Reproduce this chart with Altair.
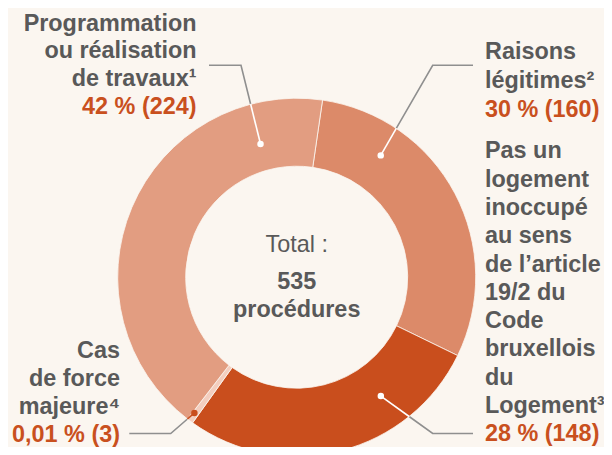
import altair as alt
import pandas as pd
import numpy as np

# ---------------- data ----------------
categories = ["Raisons légitimes", "Pas un logement inoccupé", "Cas de force majeure",
              "Programmation ou réalisation de travaux"]
values = [160, 148, 3, 224]
slice_colors = ["#DC8A69", "#C94E1D", "#F3CEBF", "#E29D81"]
label_lines = [
    ["Raisons", "légitimes²"],
    ["Pas un", "logement", "inoccupé", "au sens", "de l’article", "19/2 du", "Code",
     "bruxellois", "du", "Logement³"],
    ["Cas", "de force", "majeure⁴"],
    ["Programmation", "ou réalisation", "de travaux¹"],
]
percent_labels = ["30 % (160)", "28 % (148)", "0,01 % (3)", "42 % (224)"]
center_title = "Total :"
center_lines = ["535", "procédures"]

# ---------------- layout ----------------
W, H = 596, 439
CX, CY = 288.7, 269.2
R_OUT, R_IN = 179, 111
START = float(np.deg2rad(8.3))
BG = "#FBF6F0"
GRAY = "#595959"
ORANGE = "#C9501E"
LINE = "#8F8F8F"
FONT = "Arial, 'Liberation Sans', Helvetica, sans-serif"
FS = 23.4

# label blocks: x anchor, align, first baseline, line spacing
blocks = [
    dict(x=477, align="left", y0=51.3, dy=29),
    dict(x=477, align="left", y0=150.3, dy=28.3),
    dict(x=112, align="right", y0=349.5, dy=28),
    dict(x=188.5, align="right", y0=22.7, dy=27.6),
]
# leader lines: dot angle (deg clockwise from top), dot radius, elbow, end x
leaders = [
    dict(ang=34.6, r=148, ex=424.7, ey=57.3, endx=465, inner="#FFFFFF"),
    dict(ang=144.7, r=145.6, ex=424.7, ey=425.5, endx=465, inner="#FFFFFF"),
    dict(ang=217.0, r=170, ex=162.7, ey=425.5, endx=121.3, inner="#C94E1D"),
    dict(ang=344.8, r=138, ex=233, ey=57.3, endx=201, inner="#FFFFFF"),
]

xs = alt.Scale(domain=[0, W], range=[0, W], nice=False, zero=False)
ys = alt.Scale(domain=[0, H], range=[0, H], nice=False, zero=False)

# ---------------- donut ----------------
pie_df = pd.DataFrame({"cat": categories, "value": values, "color": slice_colors,
                       "order": list(range(len(values)))})
arc = alt.Chart(pie_df).mark_arc(outerRadius=R_OUT, innerRadius=R_IN,
                                 stroke=BG, strokeWidth=0.8).encode(
    theta=alt.Theta("value:Q", stack=True,
                    scale=alt.Scale(range=[START, START + 2 * float(np.pi)])),
    order=alt.Order("order:Q"),
    color=alt.Color("color:N", scale=None),
    x=alt.value(CX), y=alt.value(CY),
)

# ---------------- leader lines ----------------
outer_rows, inner_rows, dot_rows = [], [], []
for i, ld in enumerate(leaders):
    a = np.deg2rad(ld["ang"])
    dx_, dy_ = CX + ld["r"] * np.sin(a), CY - ld["r"] * np.cos(a)
    ex, ey = ld["ex"], ld["ey"]
    px, py = dx_ - ex, dy_ - ey
    fx, fy = ex - CX, ey - CY
    A = px * px + py * py
    B = 2 * (fx * px + fy * py)
    Cc = fx * fx + fy * fy - R_OUT ** 2
    t = (-B - np.sqrt(B * B - 4 * A * Cc)) / (2 * A)
    ix, iy = ex + t * px, ey + t * py
    for k, (x, y) in enumerate([(ld["endx"], ey), (ex, ey), (ix, iy)]):
        outer_rows.append(dict(id=i, k=k, x=x, y=y))
    for k, (x, y) in enumerate([(ix, iy), (dx_, dy_)]):
        inner_rows.append(dict(id=i, k=k, x=x, y=y, c=ld["inner"]))
    dot_rows.append(dict(x=dx_, y=dy_, c=ld["inner"]))

outer_line = alt.Chart(pd.DataFrame(outer_rows)).mark_line(
    color=LINE, strokeWidth=1.6).encode(
    x=alt.X("x:Q", scale=xs, axis=None), y=alt.Y("y:Q", scale=ys, axis=None),
    detail="id:N", order="k:Q")
inner_line = alt.Chart(pd.DataFrame(inner_rows)).mark_line(strokeWidth=1.6).encode(
    x=alt.X("x:Q", scale=xs, axis=None), y=alt.Y("y:Q", scale=ys, axis=None),
    detail="id:N", order="k:Q", color=alt.Color("c:N", scale=None))
dots = alt.Chart(pd.DataFrame(dot_rows)).mark_circle(size=42, opacity=1).encode(
    x=alt.X("x:Q", scale=xs, axis=None), y=alt.Y("y:Q", scale=ys, axis=None),
    color=alt.Color("c:N", scale=None))

# ---------------- labels ----------------
text_layers = []
for align in ["left", "right"]:
    rows = []
    for i, b in enumerate(blocks):
        if b["align"] != align:
            continue
        lines = label_lines[i] + [percent_labels[i]]
        for j, ln in enumerate(lines):
            rows.append(dict(x=b["x"], y=b["y0"] + j * b["dy"], t=ln,
                             c=ORANGE if j == len(lines) - 1 else GRAY))
    text_layers.append(
        alt.Chart(pd.DataFrame(rows)).mark_text(
            align=align, baseline="alphabetic", font=FONT, fontSize=FS,
            fontWeight="bold").encode(
            x=alt.X("x:Q", scale=xs, axis=None), y=alt.Y("y:Q", scale=ys, axis=None),
            text="t:N", color=alt.Color("c:N", scale=None)))

center_df = pd.DataFrame({"x": [CX, CX], "y": [281.3, 308.7], "t": center_lines})
center_bold = alt.Chart(center_df).mark_text(
    align="center", baseline="alphabetic", font=FONT, fontSize=FS,
    fontWeight="bold", color=GRAY).encode(
    x=alt.X("x:Q", scale=xs, axis=None), y=alt.Y("y:Q", scale=ys, axis=None), text="t:N")
title_df = pd.DataFrame({"x": [CX], "y": [243.7], "t": [center_title]})
center_reg = alt.Chart(title_df).mark_text(
    align="center", baseline="alphabetic", font=FONT, fontSize=FS,
    fontWeight="normal", color=GRAY).encode(
    x=alt.X("x:Q", scale=xs, axis=None), y=alt.Y("y:Q", scale=ys, axis=None), text="t:N")

chart = alt.layer(outer_line, arc, inner_line, dots, *text_layers, center_bold, center_reg).properties(
    width=W, height=H, padding=0, background=BG,
    autosize=alt.AutoSizeParams(type="none"),
).configure_view(stroke=None)

chart.save("out.html", embed_options={"renderer": "svg", "actions": False})
